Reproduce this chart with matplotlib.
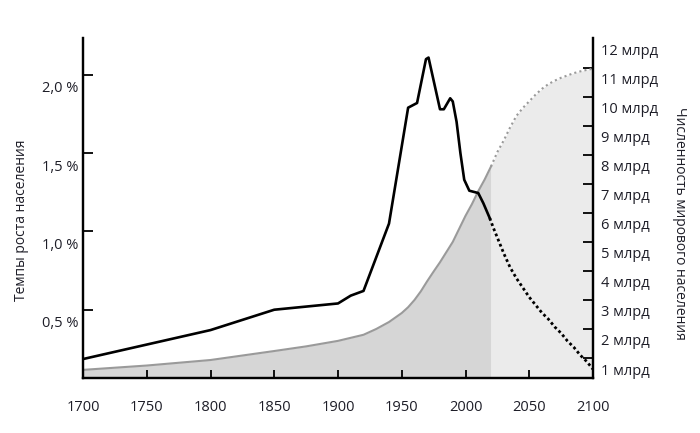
import numpy as np
import matplotlib.pyplot as plt

plt.rcParams['font.family'] = ['Open Sans', 'DejaVu Sans']

# growth rate of world population, % per year
rate_years = [1700, 1800, 1850, 1900, 1910, 1920, 1940, 1955, 1962, 1969, 1971,
              1980, 1983, 1988, 1990, 1993, 1996, 1999, 2003, 2010, 2014, 2019]
rate_vals = [0.185, 0.37, 0.50, 0.54, 0.59, 0.62, 1.05, 1.79, 1.82, 2.10, 2.11,
             1.78, 1.78, 1.85, 1.83, 1.70, 1.50, 1.33, 1.26, 1.245, 1.18, 1.085]
rate_proj_years = [2019, 2022, 2025, 2030, 2035, 2040, 2045, 2050, 2055, 2060,
                   2065, 2070, 2075, 2080, 2085, 2090, 2095, 2100]
rate_proj_vals = [1.085, 1.02, 0.96, 0.86, 0.77, 0.70, 0.64, 0.58, 0.53, 0.48,
                  0.44, 0.39, 0.35, 0.30, 0.26, 0.21, 0.17, 0.12]

# world population, billions
pop_years = [1700, 1750, 1800, 1850, 1875, 1900, 1920, 1930, 1940, 1950, 1955,
             1960, 1965, 1970, 1975, 1980, 1985, 1990, 1995, 2000, 2005, 2010,
             2015, 2020]
pop_vals = [0.59, 0.74, 0.93, 1.24, 1.40, 1.59, 1.80, 2.0, 2.24, 2.55, 2.75,
            3.0, 3.3, 3.65, 3.98, 4.3, 4.65, 5.0, 5.45, 5.9, 6.3, 6.75,
            7.15, 7.6]
pop_proj_years = [2020, 2025, 2030, 2035, 2040, 2045, 2050, 2055, 2060, 2065,
                  2070, 2075, 2080, 2085, 2090, 2095, 2100]
pop_proj_vals = [7.6, 8.1, 8.5, 8.95, 9.35, 9.62, 9.85, 10.08, 10.28, 10.44,
                 10.56, 10.66, 10.74, 10.82, 10.88, 10.93, 10.97]

x_ticks = list(range(1700, 2101, 50))
rate_ticks = [0.5, 1.0, 1.5, 2.0]
rate_labels = ['0,5 %', '1,0 %', '1,5 %', '2,0 %']
pop_ticks = list(range(1, 12))
pop_label_vals = list(range(1, 13))
pop_labels = [f'{v} млрд' for v in pop_label_vals]

text_color = '#1e1e28'

fig = plt.figure(figsize=(7, 4.33), dpi=100)
ax = fig.add_axes([83 / 700, 55 / 433, 510 / 700, 340 / 433])
ax2 = ax.twinx()

# population (right axis) as filled areas
ax2.fill_between(pop_years, 0, pop_vals, color='#d6d6d6', lw=0)
ax2.fill_between(pop_proj_years, 0, pop_proj_vals, color='#ebebeb', lw=0)
ax2.plot(pop_years, pop_vals, color='#9a9a9a', lw=1.5)
ax2.plot(pop_proj_years, pop_proj_vals, color='#9a9a9a', lw=1.5, ls=(0, (1, 1.5)))

# growth rate (left axis) on top
ax.set_zorder(ax2.get_zorder() + 1)
ax.patch.set_visible(False)
ax.plot(rate_years, rate_vals, color='black', lw=1.9, solid_joinstyle='round')
ax.plot(rate_proj_years, rate_proj_vals, color='black', lw=2.0, ls=(0, (1, 1)))

ax.set_xlim(1700, 2100)
ax.set_ylim(0.064, 2.235)
ax2.set_ylim(0.31, 12.03)

for a in (ax, ax2):
    a.spines['top'].set_visible(False)
    for s in ('left', 'right', 'bottom'):
        a.spines[s].set_linewidth(1.6)

ax.set_xticks(x_ticks)
ax.set_xticklabels([str(v) for v in x_ticks])
ax.tick_params(axis='x', direction='in', length=6, width=1.3, pad=16,
               labelsize=10.5, labelcolor=text_color)

# major ticks without labels, labels sit a bit below each tick
ax.set_yticks(rate_ticks)
ax.set_yticklabels([])
ax.set_yticks([v - 0.077 for v in rate_ticks], minor=True)
ax.set_yticklabels(rate_labels, minor=True)
ax.tick_params(axis='y', which='major', direction='in', length=7, width=1.3)
ax.tick_params(axis='y', which='minor', length=0, pad=3, labelsize=10.5,
               labelcolor=text_color)

ax2.set_yticks(pop_ticks)
ax2.set_yticklabels([])
ax2.set_yticks([v - 0.38 for v in pop_label_vals], minor=True)
ax2.set_yticklabels(pop_labels, minor=True)
ax2.tick_params(axis='y', which='major', direction='in', length=7, width=1.3)
ax2.tick_params(axis='y', which='minor', length=0, pad=6, labelsize=10.5,
                labelcolor=text_color)

fig.text(22 / 700, 1 - 220 / 433, 'Темпы роста населения', rotation=90,
         ha='center', va='center', fontsize=10, color=text_color)
fig.text(679 / 700, 1 - 223 / 433, 'Численность мирового населения', rotation=270,
         ha='center', va='center', fontsize=10, color=text_color)

fig.savefig('out.png', dpi=100)
